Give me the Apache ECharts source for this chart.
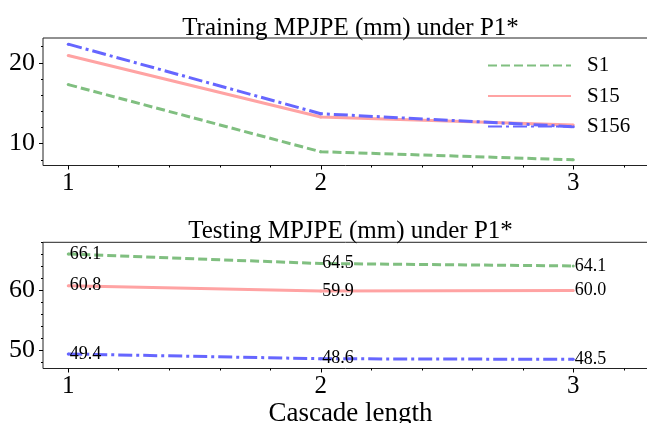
<!DOCTYPE html>
<html>
<head>
<meta charset="utf-8">
<script src="https://cdn.jsdelivr.net/npm/echarts@6/dist/echarts.min.js"></script>
<style>
html, body { margin: 0; padding: 0; background: #fff; }
#main { width: 647px; height: 423px; }
</style>
</head>
<body>
<div id="main"></div>
<script>
// data
var cascade = [1, 2, 3];
var trainS1 = [17.3, 9.0, 8.0];
var trainS15 = [20.9, 13.3, 12.3];
var trainS156 = [22.3, 13.7, 12.1];
var testS1 = [66.1, 64.5, 64.1];
var testS15 = [60.8, 59.9, 60.0];
var testS156 = [49.4, 48.6, 48.5];

var xMajor = [1, 2, 3];
var xMinor = [1.2, 1.4, 1.6, 1.8, 2.2, 2.4, 2.6, 2.8, 3.2];
var trainMajor = [10, 20];
var trainMinor = [8, 12, 14, 16, 18, 22];
var testMajor = [50, 60];
var testMinor = [48, 52, 54, 56, 58, 62, 64, 66, 68];

var FONT = 'Liberation Serif';
var chart = echarts.init(document.getElementById('main'));

function pairs(ys) {
	var out = [];
	for (var i = 0; i < cascade.length; i++) {
		out.push([cascade[i], ys[i]]);
	}
	return out;
}

// main axis (labels + major ticks) or helper axis (minor ticks only)
function xAxisOf(grid, ticks, major) {
	return {
		type: 'value', gridIndex: grid, position: 'bottom', min: 0.9, max: 3.3,
		axisLine: { show: false },
		splitLine: { show: false },
		axisTick: { show: true, customValues: ticks, length: major ? 4 : 2, lineStyle: { color: '#000', width: 1 } },
		axisLabel: { show: major, customValues: ticks, margin: 5, fontFamily: FONT, fontSize: 25, color: '#000' }
	};
}
function yAxisOf(grid, ticks, major, lo, hi) {
	return {
		type: 'value', gridIndex: grid, position: 'left', min: lo, max: hi,
		axisLine: { show: false },
		splitLine: { show: false },
		axisTick: { show: true, customValues: ticks, length: major ? 4 : 2, lineStyle: { color: '#000', width: 1 } },
		axisLabel: { show: major, customValues: ticks, margin: 8, fontFamily: FONT, fontSize: 26, color: '#000' }
	};
}

var styles = {
	S1: { color: '#80bf80', type: [9, 4] },
	S15: { color: '#ffa3a3', type: 'solid' },
	S156: { color: '#6666ff', type: [14, 4, 3, 4] }
};

function lineSeries(name, ys, grid, withLabel) {
	var s = {
		name: name, type: 'line',
		xAxisIndex: grid * 2, yAxisIndex: grid * 2,
		data: pairs(ys),
		symbol: 'circle',
		symbolSize: 3,
		z: 3,
		lineStyle: { color: styles[name].color, type: styles[name].type, width: 3 },
		itemStyle: { color: styles[name].color }
	};
	if (withLabel) {
		s.label = {
			show: true, position: 'right', distance: 0,
			fontFamily: FONT, fontSize: 18, color: '#000',
			formatter: function(p) { return p.value[1].toFixed(1); }
		};
	}
	return s;
}

var option = {
	animation: false,
	title: [
		{ text: 'Training MPJPE (mm) under P1*', left: 345.5, top: 11, textAlign: 'center',
		  textStyle: { fontFamily: FONT, fontSize: 25, fontWeight: 'normal', color: '#000' } },
		{ text: 'Testing MPJPE (mm) under P1*', left: 345.5, top: 214, textAlign: 'center',
		  textStyle: { fontFamily: FONT, fontSize: 25, fontWeight: 'normal', color: '#000' } },
		{ text: 'Cascade length', left: 345.5, top: 395, textAlign: 'center',
		  textStyle: { fontFamily: FONT, fontSize: 27, fontWeight: 'normal', color: '#000' } }
	],
	legend: {
		data: ['S1', 'S15', 'S156'],
		orient: 'vertical',
		left: 487, top: 55, padding: 0,
		itemWidth: 83, itemHeight: 14, itemGap: 9.5,
		itemStyle: { opacity: 0 },
		textStyle: { fontFamily: FONT, fontSize: 21, color: '#000', padding: [0, 0, 0, 11] }
	},
	grid: [
		{ left: 43, top: 38, width: 606, height: 127.5, outerBoundsMode: 'none', show: true, borderColor: '#222', borderWidth: 1 },
		{ left: 43, top: 242.3, width: 606, height: 126.2, outerBoundsMode: 'none', show: true, borderColor: '#222', borderWidth: 1 }
	],
	xAxis: [
		xAxisOf(0, xMajor, true), xAxisOf(0, xMinor, false),
		xAxisOf(1, xMajor, true), xAxisOf(1, xMinor, false)
	],
	yAxis: [
		yAxisOf(0, trainMajor, true, 7.3, 23.06), yAxisOf(0, trainMinor, false, 7.3, 23.06),
		yAxisOf(1, testMajor, true, 46.97, 68.05), yAxisOf(1, testMinor, false, 46.97, 68.05)
	],
	series: [
		lineSeries('S1', trainS1, 0, false),
		lineSeries('S15', trainS15, 0, false),
		lineSeries('S156', trainS156, 0, false),
		lineSeries('S1', testS1, 1, true),
		lineSeries('S15', testS15, 1, true),
		lineSeries('S156', testS156, 1, true)
	]
};

chart.setOption(option);
</script>
</body>
</html>
